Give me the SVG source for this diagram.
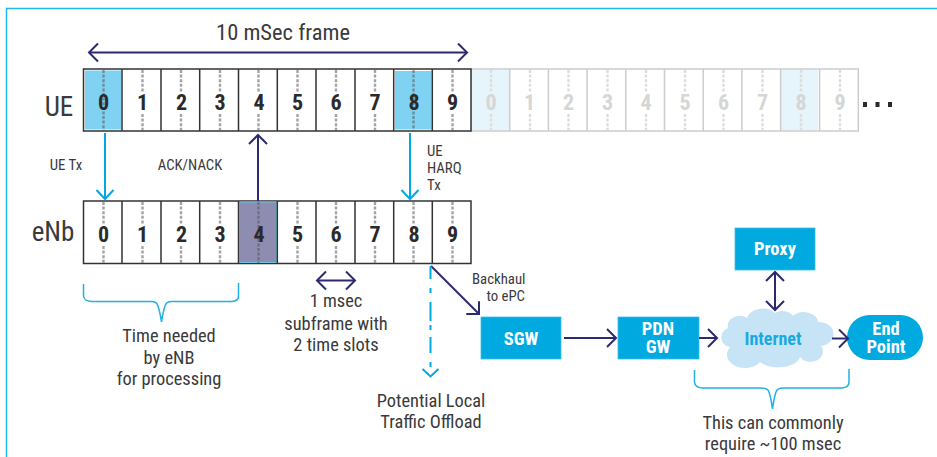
<svg xmlns="http://www.w3.org/2000/svg" width="937" height="457" viewBox="0 0 937 457">
<style>
text{font-family:"Liberation Sans Narrow","Roboto Condensed","Liberation Sans",sans-serif;fill:#3a3a3c;text-anchor:middle}
.lab{font-size:18.400px}.sm{font-size:14.800px}.big{font-size:27px}.t{font-size:22.500px}
.d{font-size:22px;font-weight:700;fill:#2a2a2c}
.df{font-size:22px;font-weight:700;fill:#d6d6d6}
.n{font-size:18.500px;font-weight:700;fill:#fff}
.cell{fill:#fff;stroke:#333;stroke-width:1.5}
.cf{fill:#fff;stroke:#ccc;stroke-width:1.5}
.dash{stroke:#555;stroke-opacity:.55;stroke-width:2.4;stroke-dasharray:3 1.6;fill:none}
.dashf{stroke:#ddd;stroke-width:2.4;stroke-dasharray:3 1.6;fill:none}
.nb{fill:#00a9e0;stroke:#3fbce8;stroke-width:.8}
.navy{stroke:#2b2a6e;stroke-width:2;fill:none}
.blue{stroke:#00a9e0;stroke-width:2;fill:none}
.brace{stroke:#22b0e4;stroke-width:1.5;fill:none}
</style>
<defs>
<marker id="an" markerUnits="userSpaceOnUse" markerWidth="24" markerHeight="24" refX="11" refY="10" orient="auto-start-reverse" viewBox="0 0 24 24"><path d="M2 1 L11 10 L2 19" fill="none" stroke="#2b2a6e" stroke-width="2"/></marker>
<marker id="ab" markerUnits="userSpaceOnUse" markerWidth="24" markerHeight="24" refX="11" refY="10" orient="auto" viewBox="0 0 24 24"><path d="M2 1.500 L11 10 L2 18.500" fill="none" stroke="#00a9e0" stroke-width="2"/></marker>
<path id="dl" d="M0 70V92M0 114V131" class="dash"/>
<path id="dlf" d="M0 70V92M0 114V131" class="dashf"/>
<path id="df" d="M0 70V131" class="dash"/>
</defs>
<path id="frame" d="M6.500 457V8.500H937" fill="none" stroke="#1fb8e8" stroke-width="1.500"/>

<g id="ue-label"><text class="big" x="59" y="116">UE</text></g>
<g id="enb-label"><text class="big" x="53" y="241">eNb</text></g>

<g id="ue-frame-next">
<rect class="cf" x="471" y="69" width="387.300" height="62"/>
<rect x="472" y="70" width="37" height="60" fill="#e6f4fb"/>
<rect x="781" y="70" width="37" height="60" fill="#e6f4fb"/>
<path d="M509.700 69V131M548.400 69V131M587.100 69V131M625.800 69V131M664.500 69V131M703.200 69V131M741.900 69V131M780.600 69V131M819.600 69V131" stroke="#ccc" stroke-width="1.500"/>
<use href="#dlf" x="491"/><use href="#dlf" x="530"/><use href="#dlf" x="568.500"/><use href="#dlf" x="607.500"/><use href="#dlf" x="646"/><use href="#dlf" x="685"/><use href="#dlf" x="723.500"/><use href="#dlf" x="762.500"/><use href="#dlf" x="801"/><use href="#dlf" x="840"/>
<text class="df" x="491" y="110">0</text><text class="df" x="529.500" y="110">1</text><text class="df" x="568.500" y="110">2</text><text class="df" x="607.500" y="110">3</text><text class="df" x="646" y="110">4</text><text class="df" x="685" y="110">5</text><text class="df" x="723.500" y="110">6</text><text class="df" x="762.500" y="110">7</text><text class="df" x="801" y="110">8</text><text class="df" x="840" y="110">9</text>
</g>

<g id="ue-frame">
<rect class="cell" x="83.500" y="69" width="387.500" height="62"/>
<rect x="85" y="70.500" width="36" height="59" fill="#80d2f2"/>
<rect x="395" y="71" width="36.500" height="58.500" fill="#80d2f2"/>
<path d="M122 69V131M161 69V131M199.700 69V131M238.500 69V131M277.300 69V131M316 69V131M355 69V131M393.700 69V131M432.300 69V131" stroke="#333" stroke-width="1.500"/>
<use href="#df" x="103.500"/><use href="#dl" x="142.500"/><use href="#dl" x="181"/><use href="#dl" x="220"/><use href="#dl" x="258.500"/><use href="#dl" x="297.500"/><use href="#dl" x="336"/><use href="#dl" x="375"/><use href="#df" x="413.500"/><use href="#dl" x="452.500"/>
<text class="d" x="103.500" y="110">0</text><text class="d" x="142.500" y="110">1</text><text class="d" x="181.500" y="110">2</text><text class="d" x="220" y="110">3</text><text class="d" x="259" y="110">4</text><text class="d" x="297.500" y="110">5</text><text class="d" x="336" y="110">6</text><text class="d" x="375" y="110">7</text><text class="d" x="414" y="110">8</text><text class="d" x="452.500" y="110">9</text>
</g>

<g id="enb-frame">
<rect class="cell" x="83.500" y="201" width="387.500" height="62.500"/>
<rect x="239.500" y="202" width="37" height="60.500" fill="#8e8cb0" stroke="#6fc4e4" stroke-width="1"/>
<path d="M122 201V263.500M161 201V263.500M199.700 201V263.500M238.500 201V263.500M277.300 201V263.500M316 201V263.500M355 201V263.500M393.700 201V263.500M432.300 201V263.500" stroke="#333" stroke-width="1.500"/>
<g transform="translate(0 132)"><use href="#dl" x="103.500"/><use href="#dl" x="142.500"/><use href="#dl" x="181"/><use href="#dl" x="220"/><use href="#df" x="258.500"/><use href="#dl" x="297.500"/><use href="#dl" x="336"/><use href="#dl" x="375"/><use href="#dl" x="413.500"/><use href="#dl" x="452.500"/></g>
<text class="d" x="103.500" y="242">0</text><text class="d" x="142.500" y="242">1</text><text class="d" x="181.500" y="242">2</text><text class="d" x="220" y="242">3</text><text class="d" x="259" y="242">4</text><text class="d" x="297.500" y="242">5</text><text class="d" x="336" y="242">6</text><text class="d" x="375" y="242">7</text><text class="d" x="414" y="242">8</text><text class="d" x="452.500" y="242">9</text>
</g>

<g id="ellipsis" fill="#2a2a2c"><rect x="863" y="102" width="4" height="5"/><rect x="875.500" y="102" width="4" height="5"/><rect x="888" y="102" width="4" height="5"/></g>

<g id="sgw"><rect class="nb" x="481" y="317" width="80" height="42"/><text class="n" x="521" y="345">SGW</text></g>
<g id="pdn-gw"><rect class="nb" x="618" y="317" width="81" height="42"/><text class="n"><tspan x="658" y="335">PDN</tspan><tspan x="658" y="353">GW</tspan></text></g>
<g id="proxy"><rect class="nb" x="735" y="228" width="80" height="42"/><text class="n" x="775" y="255">Proxy</text></g>
<g id="internet"><path d="M730 347A11 10 0 0 1 728 328A12 10 0 0 1 747 318A16 12 0 0 1 775 313A12 9 0 0 1 793 316A14 10 0 0 1 818 322A14 12 0 0 1 821 346A12 10 0 0 1 800 357A22 12 0 0 1 760 362A16 12 0 0 1 730 347Z" fill="#c7e4f6"/><text x="773" y="345" style="font-size:18px;font-weight:700;fill:#1ba9e1">Internet</text></g>
<g id="end-point"><rect x="847" y="315" width="76" height="45" rx="22.500" fill="#00a9e0"/><text class="n"><tspan x="886" y="335">End</tspan><tspan x="886" y="353">Point</tspan></text></g>

<g id="connectors">
<path class="navy" d="M89 52.500H467" marker-start="url(#an)" marker-end="url(#an)"/>
<path class="blue" d="M105 133V199" marker-end="url(#ab)"/>
<path class="blue" d="M410 133V199" marker-end="url(#ab)"/>
<path class="navy" d="M258 201V135" marker-end="url(#an)"/>
<path class="navy" d="M317 280.500H355" marker-start="url(#an)" marker-end="url(#an)"/>
<path class="navy" d="M431 266L479 314" marker-end="url(#an)"/>
<path class="blue" d="M430.500 266V279M430.500 288V293M430.500 302V321M430.500 325V330M430.500 337V353M430.500 362V367M422.500 369L430.500 376.500L438.500 369"/>
<path class="navy" d="M564 338H616" marker-end="url(#an)"/>
<path class="navy" d="M699 338H717" marker-end="url(#an)"/>
<path class="navy" d="M832 338.500H848" marker-end="url(#an)"/>
<path class="navy" d="M775 272V310" marker-start="url(#an)" marker-end="url(#an)"/>
<path class="brace" d="M83.500 284V296Q84 301 91 301.500H150Q157 301 158 306Q160 312 161.500 322Q163 312 165 306Q166 301 173 301.500H232Q238.500 301 238.500 296V283"/>
<path class="brace" d="M694.500 370V382Q695 387.500 702 388H761Q768 388 769 392Q771 398 772.500 409Q774 398 776 392Q777 388 784 388H842Q849 387.500 849 382V369"/>
</g>

<g id="labels">
<text class="t" x="283" y="40">10 mSec frame</text>
<text class="sm" x="66" y="170">UE Tx</text>
<text class="sm" x="190" y="170">ACK/NACK</text>
<text class="sm" x="427" y="156" style="text-anchor:start">UE</text>
<text class="sm" x="427" y="173" style="text-anchor:start">HARQ</text>
<text class="sm" x="427" y="190" style="text-anchor:start">Tx</text>
<text class="lab" x="169" y="342">Time needed</text>
<text class="lab" x="169" y="364">by eNB</text>
<text class="lab" x="169" y="385">for processing</text>
<text class="lab" x="336" y="307">1 msec</text>
<text class="lab" x="336" y="330">subframe with</text>
<text class="lab" x="336" y="351">2 time slots</text>
<text class="lab" x="431" y="407">Potential Local</text>
<text class="lab" x="431" y="428">Traffic Offload</text>
<text class="sm" x="472" y="284" style="text-anchor:start">Backhaul</text>
<text class="sm" x="525" y="301" style="text-anchor:end">to ePC</text>
<text class="lab" x="773" y="429">This can commonly</text>
<text class="lab" x="773" y="450">require ~100 msec</text>
</g>
</svg>
